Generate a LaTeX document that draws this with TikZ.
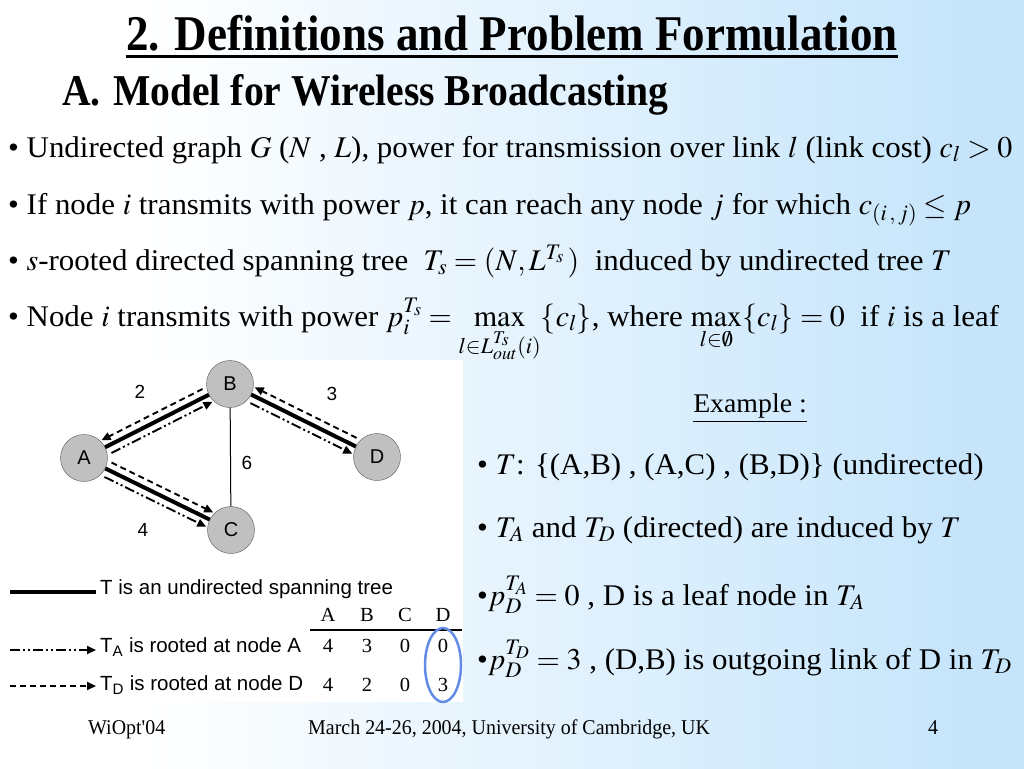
\documentclass[tikz,border=0pt]{standalone}
\usepackage{mathptmx}
\usepackage[no-math]{fontspec}
\setmainfont{Liberation Serif}[FakeStretch=1.03]
\setsansfont{Liberation Sans}
\newfontfamily\titlefont[FakeStretch=0.9]{Liberation Serif}
\newfontfamily\footfont[FakeStretch=0.95]{Liberation Serif}
\usetikzlibrary{arrows.meta,shapes.geometric}
\definecolor{bgblue}{RGB}{198,229,251}
\definecolor{nodegray}{RGB}{192,192,192}
\definecolor{ringblue}{RGB}{100,140,230}
\pgfdeclarehorizontalshading{slidebg}{100bp}{color(0bp)=(white); color(32bp)=(white); color(72bp)=(bgblue); color(100bp)=(bgblue)}
\begin{document}
\begin{tikzpicture}[
        x=1pt, y=-1pt,
        body/.style={anchor=base west, inner sep=0pt, font=\fontsize{30}{36}\selectfont},
        vertex/.style={circle, draw=gray!70!black, fill=nodegray, minimum size=47pt, inner sep=0pt, font=\sffamily\fontsize{20}{24}\selectfont},
        weight/.style={font=\sffamily\fontsize{19}{23}\selectfont},
        tree/.style={line width=4pt},
        rootA/.style={line width=1.9pt, dash pattern=on 10pt off 3pt on 2pt off 3pt on 2pt off 3pt, -{Triangle[length=9pt,width=8pt]}},
        rootD/.style={line width=1.9pt, dash pattern=on 6pt off 4pt, -{Triangle[length=9pt,width=8pt]}},
        legend/.style={anchor=west, inner sep=4pt, font=\sffamily\fontsize{20.5}{24}\selectfont},
        cell/.style={inner sep=0pt, font=\fontsize{20}{24}\selectfont}
    ]

    % Background
    \shade[shading=slidebg] (0,0) rectangle (1024,768);
    \useasboundingbox (0,0) rectangle (1024,768);
    \fill[white] (95,360) rectangle (463,702);
    \fill[white] (0,572) rectangle (95,702);

    % Title
    \node[anchor=base, inner sep=0pt, font=\titlefont\bfseries\fontsize{50}{56}\selectfont] (title) at (512,51) {2. Definitions and Problem Formulation};
    \draw[line width=3pt] ([yshift=-6pt]title.base west) -- ([yshift=-6pt]title.base east);
    \node[anchor=base west, inner sep=0pt, font=\titlefont\bfseries\fontsize{44}{50}\selectfont] (secA) at (62,105) {A.};
    \node[anchor=base west, inner sep=0pt, font=\titlefont\bfseries\fontsize{44}{50}\selectfont] (subtitle) at (113,105) {Model for Wireless Broadcasting};

    % Definitions
    \node[body] (def1) at (8,157) {• Undirected graph $G$ ($N$ , $L$), power for transmission over link $l$ (link cost) $c_l > 0$};
    \node[body] (def2) at (8,214) {• If node $i$ transmits with power $p$, it can reach any node $j$ for which $c_{(i\,,\,j)} \le p$};
    \node[body] (def3) at (8,270) {• $s$-rooted directed spanning tree \ $T_s = (N, L^{T_s}\,)$ \ induced by undirected tree $T$};
    \node[body] (def4) at (8,326) {• Node $i$ transmits with power $p_i^{T_s} = \max\limits_{l\in L_{out}^{T_s}(i)} \{c_l\}$, where $\max\limits_{l\in\emptyset}\{c_l\} = 0$ \ if $i$ is a leaf};

    % Graph
    \node[vertex] (A) at (84,458) {A};
    \node[vertex] (B) at (230,384) {B};
    \node[vertex] (C) at (231,530) {C};
    \node[vertex] (D) at (377,457) {D};

    \draw[tree] (A) -- (B);
    \draw[tree] (A) -- (C);
    \draw[tree] (B) -- (D);
    \draw[line width=1pt] (B) -- (C);

    \draw[rootD, shorten <=3pt, transform canvas={shift={(-3.6,-7.1)}}] (B) -- (A);
    \draw[rootD, shorten <=3pt, transform canvas={shift={(3.5,-7.2)}}] (A) -- (C);
    \draw[rootD, shorten <=3pt, transform canvas={shift={(3.5,-7.2)}}] (D) -- (B);

    \draw[rootA, shorten <=3pt, transform canvas={shift={(3.6,7.1)}}] (A) -- (B);
    \draw[rootA, shorten <=3pt, transform canvas={shift={(-3.5,7.2)}}] (A) -- (C);
    \draw[rootA, shorten <=3pt, transform canvas={shift={(-3.5,7.2)}}] (B) -- (D);

    \node[weight] (w2) at (140,392) {2};
    \node[weight] (w3) at (332,394) {3};
    \node[weight] (w6) at (247,463) {6};
    \node[weight] (w4) at (143,530) {4};

    % Legend
    \coordinate (lgT) at (10,592);
    \coordinate (lgA) at (10,650);
    \coordinate (lgD) at (10,686);
    \node[legend] (legT) at (96,589) {T is an undirected spanning tree};
    \node[legend] (legA) at (96,647) {T\textsubscript{A} is rooted at node A};
    \node[legend] (legD) at (96,685) {T\textsubscript{D} is rooted at node D};
    \draw[tree] (lgT) -- (legT.west |- lgT);
    \draw[rootA] (lgA) -- (legA.west |- lgA);
    \draw[rootD] (lgD) -- (legD.west |- lgD);

    % Table
    \foreach \col/\x/\a/\d in {A/328/4/4, B/367/3/2, C/405/0/0, D/443/0/3} {
        \node[cell] (h\col) at (\x,615) {\col};
        \node[cell] (ta\col) at (\x,646) {\a};
        \node[cell] (td\col) at (\x,685) {\d};
    }
    \draw[line width=1.2pt] (310,630) -- (462,630);
    \node[ellipse, draw=ringblue, line width=2.5pt, minimum width=36pt, minimum height=74pt, inner sep=0pt] (ring) at (443,665) {};

    % Example
    \node[anchor=base, inner sep=0pt, font=\fontsize{27}{32}\selectfont] (example) at (750,412) {\underline{Example :}};
    \node[body] (ex1) at (477,474) {• $T$: \{(A,B) , (A,C) , (B,D)\} (undirected)};
    \node[body] (ex2) at (477,537) {• $T_A$ and $T_D$ (directed) are induced by $T$};
    \node[body] (ex3) at (477,605) {•$p_D^{T_A} = 0$ , D is a leaf node in $T_A$};
    \node[body] (ex4) at (477,669) {•$p_D^{T_D} = 3$ , (D,B) is outgoing link of D in $T_D$};

    % Footer
    \node[anchor=base west, inner sep=0pt, font=\footfont\fontsize{21}{25}\selectfont] (venue) at (88,734) {WiOpt\textquotesingle04};
    \node[anchor=base west, inner sep=0pt, font=\footfont\fontsize{21}{25}\selectfont] (date) at (308,734) {March 24-26, 2004, University of Cambridge, UK};
    \node[anchor=base west, inner sep=0pt, font=\footfont\fontsize{21}{25}\selectfont] (page) at (928,734) {4};

\end{tikzpicture}
\end{document}
